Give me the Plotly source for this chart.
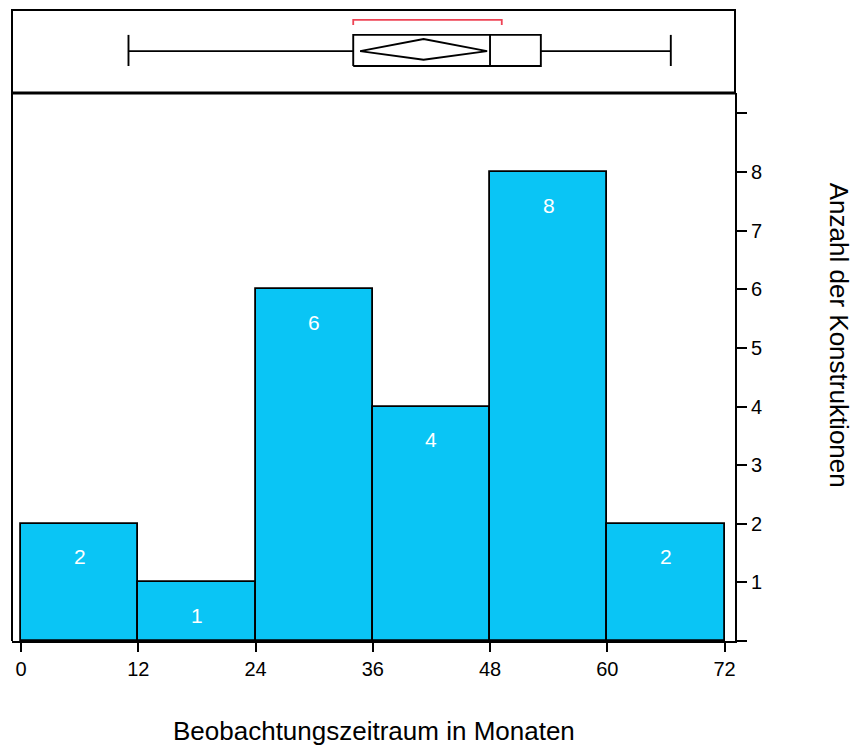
import plotly.graph_objects as go

# Histogram of observation periods (months)
bin_edges = [0, 12, 24, 36, 48, 60, 72]
counts = [2, 1, 6, 4, 8, 2]
x_tick_labels = ["0", "12", "24", "36", "48", "60", "72"]
y_tick_values = [0, 1, 2, 3, 4, 5, 6, 7, 8, 9]
y_tick_labels = ["", "1", "2", "3", "4", "5", "6", "7", "8", ""]

# Outlier box plot summary
whisker_low = 11.0
q1 = 34.0
median = 48.0
q3 = 53.2
whisker_high = 66.5
mean_value = 41.2
mean_ci = [34.7, 47.7]
shortest_half = [34.0, 49.2]

BAR_COLOR = "#0AC5F5"
FONT = "Liberation Sans, Arial, Helvetica, sans-serif"

centers = [(a + b) / 2 for a, b in zip(bin_edges[:-1], bin_edges[1:])]
widths = [b - a for a, b in zip(bin_edges[:-1], bin_edges[1:])]

fig = go.Figure()

fig.add_trace(go.Bar(
    x=centers, y=counts, width=widths,
    marker=dict(color=BAR_COLOR, line=dict(color="black", width=1.8)),
    hoverinfo="skip", showlegend=False,
))

# value labels inside the bars
for c, v in zip(centers, counts):
    fig.add_annotation(x=c, y=v, xref="x", yref="y", text=str(v),
                       showarrow=False, yshift=-33,
                       font=dict(family=FONT, size=21, color="white"))

# --- box plot panel (x2/y2) ---
box_lo, box_hi = 0.325, 0.70
mid = 0.505
dia_lo, dia_hi = 0.40, 0.65
line_style = dict(color="black", width=1.9)

# whiskers and caps
fig.add_trace(go.Scatter(
    x=[whisker_low, q1, None, q3, whisker_high, None,
       whisker_low, whisker_low, None, whisker_high, whisker_high],
    y=[mid, mid, None, mid, mid, None,
       box_lo, box_hi, None, box_lo, box_hi],
    mode="lines", line=line_style, xaxis="x2", yaxis="y2",
    hoverinfo="skip", showlegend=False,
))
# box with median
fig.add_trace(go.Scatter(
    x=[q1, q3, q3, q1, q1, None, median, median],
    y=[box_lo, box_lo, box_hi, box_hi, box_lo, None, box_lo, box_hi],
    mode="lines", line=line_style, xaxis="x2", yaxis="y2",
    hoverinfo="skip", showlegend=False,
))
# mean confidence diamond
fig.add_trace(go.Scatter(
    x=[mean_ci[0], mean_value, mean_ci[1], mean_value, mean_ci[0]],
    y=[mid, dia_hi, mid, dia_lo, mid],
    mode="lines", line=line_style, xaxis="x2", yaxis="y2",
    hoverinfo="skip", showlegend=False,
))
# shortest half bracket
fig.add_trace(go.Scatter(
    x=[shortest_half[0], shortest_half[0], shortest_half[1], shortest_half[1]],
    y=[0.82, 0.88, 0.88, 0.82],
    mode="lines", line=dict(color="#EE4455", width=1.8),
    xaxis="x2", yaxis="y2", hoverinfo="skip", showlegend=False,
))

split = 548 / 631
x_range = [-0.921, 73.07]

# panel frames
fig.add_shape(type="rect", xref="paper", yref="paper", x0=0, x1=1, y0=split, y1=1,
              line=dict(color="black", width=2))
fig.add_shape(type="line", xref="paper", yref="paper", x0=0, x1=1, y0=split, y1=split,
              line=dict(color="black", width=3))
fig.add_shape(type="line", xref="paper", yref="paper", x0=0, x1=0, y0=0, y1=split,
              line=dict(color="black", width=2))

# axis titles
fig.add_annotation(x=0.5, y=0, xref="paper", yref="paper", yshift=-90,
                   text="Beobachtungszeitraum in Monaten", showarrow=False,
                   yanchor="middle", font=dict(family=FONT, size=26, color="black"))
fig.add_annotation(x=1.145, y=0.484, xref="paper", yref="paper", textangle=90,
                   text="Anzahl der Konstruktionen", showarrow=False,
                   xanchor="center", yanchor="middle",
                   font=dict(family=FONT, size=26, color="black"))

fig.update_layout(
    width=856, height=748,
    margin=dict(l=12, r=121, t=10, b=107),
    paper_bgcolor="white", plot_bgcolor="white",
    bargap=0,
    font=dict(family=FONT, color="black"),
    xaxis=dict(range=x_range, tickvals=bin_edges, ticktext=x_tick_labels,
               ticks="outside", ticklen=9, tickwidth=1.5, tickcolor="black",
               showline=True, linecolor="black", linewidth=2,
               showgrid=False, zeroline=False, anchor="y",
               tickfont=dict(family=FONT, size=20, color="black")),
    yaxis=dict(domain=[0, split], range=[0, 9.348], side="right",
               tickvals=y_tick_values, ticktext=y_tick_labels,
               ticks="outside", ticklen=10, tickwidth=1.5, tickcolor="black",
               showline=True, linecolor="black", linewidth=2,
               showgrid=False, zeroline=False, anchor="x",
               tickfont=dict(family=FONT, size=20, color="black")),
    xaxis2=dict(range=x_range, visible=False, anchor="y2", matches="x"),
    yaxis2=dict(domain=[split, 1], range=[0, 1], visible=False, anchor="x2"),
)

fig.write_html("out.html")
